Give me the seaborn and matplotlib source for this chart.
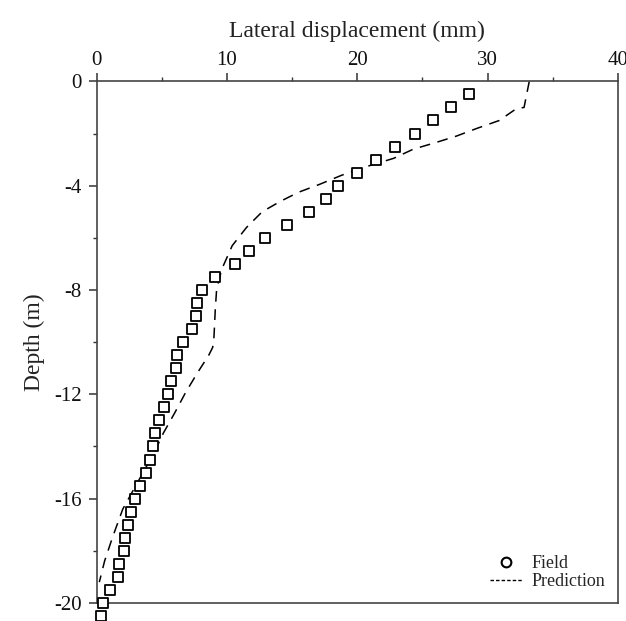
import numpy as np
import pandas as pd
import seaborn as sns
import matplotlib.pyplot as plt
from matplotlib.lines import Line2D
from matplotlib.ticker import MultipleLocator

field_depth = [-0.5, -1.0, -1.5, -2.0, -2.5, -3.0, -3.5, -4.0, -4.5, -5.0,
               -5.5, -6.0, -6.5, -7.0, -7.5, -8.0, -8.5, -9.0, -9.5, -10.0,
               -10.5, -11.0, -11.5, -12.0, -12.5, -13.0, -13.5, -14.0, -14.5, -15.0,
               -15.5, -16.0, -16.5, -17.0, -17.5, -18.0, -18.5, -19.0, -19.5, -20.0,
               -20.5]
field_disp = [28.6, 27.2, 25.8, 24.4, 22.9, 21.4, 20.0, 18.5, 17.6, 16.3,
              14.6, 12.9, 11.7, 10.6, 9.1, 8.1, 7.7, 7.65, 7.3, 6.6,
              6.2, 6.1, 5.7, 5.5, 5.2, 4.8, 4.5, 4.3, 4.07, 3.8,
              3.35, 2.9, 2.6, 2.4, 2.2, 2.07, 1.7, 1.6, 1.0, 0.5,
              0.36]

# predicted profile
pred_disp = [33.2, 32.8, 32.2, 30.9, 29.2, 27.6, 26.0, 24.3, 22.8, 20.5,
             18.8, 17.1, 15.5, 14.1, 12.7, 11.5, 10.4, 9.6, 9.2, 9.1,
             9.0, 8.9, 8.6, 7.7, 6.8, 6.0, 5.1, 4.4, 4.0, 3.0,
             2.0, 1.2, 0.6, 0.2]
pred_depth = [0.0, -1.0, -1.05, -1.5, -1.8, -2.1, -2.35, -2.6, -2.95, -3.3,
              -3.6, -3.95, -4.25, -4.6, -5.0, -5.6, -6.3, -7.2, -8.0, -8.75,
              -9.8, -10.2, -10.5, -11.2, -11.95, -12.7, -13.5, -14.25, -14.6, -15.5,
              -16.4, -17.5, -18.4, -19.2]

field = pd.DataFrame({'disp': field_disp, 'depth': field_depth})
pred = pd.DataFrame({'disp': pred_disp, 'depth': pred_depth})

sns.set_theme(style='ticks')
plt.rcParams['font.family'] = ['Liberation Serif', 'DejaVu Serif']

fig = plt.figure(figsize=(6.26, 6.21), dpi=100)
ax = fig.add_axes([0.1545, 0.029, 0.8325, 0.840])

sns.lineplot(data=pred, x='disp', y='depth', sort=False, estimator=None,
             color='black', lw=1.1, linestyle=(0, (7, 5)), ax=ax)
sns.scatterplot(data=field, x='disp', y='depth', marker='s', s=45,
                facecolor='white', edgecolor='black', linewidth=1.3,
                zorder=3, clip_on=False, ax=ax)

ax.set_xlim(0, 40)
ax.set_ylim(-20, 0)
ax.xaxis.set_major_locator(MultipleLocator(10))
ax.xaxis.set_minor_locator(MultipleLocator(5))
ax.yaxis.set_minor_locator(MultipleLocator(2))
ax.xaxis.tick_top()
ax.xaxis.set_label_position('top')
ax.tick_params(which='major', length=6, width=1.1, colors='#333333',
               labelcolor='#111111', labelsize=15, direction='out')
ax.tick_params(which='minor', length=3, width=1.0, colors='#333333', direction='out')
ax.tick_params(axis='x', pad=2)
ax.tick_params(axis='y', pad=5)
ax.set_yticks([0, -4, -8, -12, -16, -20])
ax.set_yticklabels(['0', '-4', '-8', '-12', '-16', '-20'])

for sp in ax.spines.values():
    sp.set_visible(True)
    sp.set_linewidth(1.2)
    sp.set_color('#444444')

ax.set_xlabel('Lateral displacement (mm)', fontsize=17, labelpad=10, color='#222222')
ax.set_ylabel('Depth (m)', fontsize=17, labelpad=6, color='#222222')

handles = [Line2D([], [], marker='o', ls='none', mfc='white', mec='black',
                  mew=1.5, ms=7),
           Line2D([], [], color='black', lw=1.0, ls=(0, (2.5, 1.5)))]
ax.legend(handles, ['Field', 'Prediction'], loc='lower right', frameon=False,
          fontsize=13, handlelength=1.8, handletextpad=0.5, labelspacing=0.05,
          borderaxespad=0.3)

fig.savefig('out.png', dpi=100)
